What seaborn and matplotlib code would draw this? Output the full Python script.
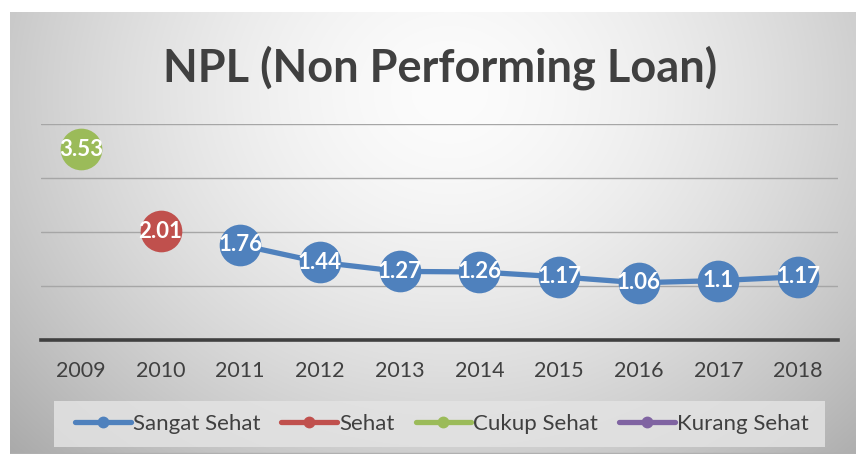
import numpy as np
import pandas as pd
import matplotlib
matplotlib.use("Agg")
import matplotlib.pyplot as plt
from matplotlib.lines import Line2D
from matplotlib.patches import Rectangle
import seaborn as sns

years = ["2009", "2010", "2011", "2012", "2013", "2014", "2015", "2016", "2017", "2018"]
sangat_sehat = [None, None, 1.76, 1.44, 1.27, 1.26, 1.17, 1.06, 1.1, 1.17]
sehat = [None, 2.01, None, None, None, None, None, None, None, None]
cukup_sehat = [3.53, None, None, None, None, None, None, None, None, None]
kurang_sehat = [None] * 10
series_names = ["Sangat Sehat", "Sehat", "Cukup Sehat", "Kurang Sehat"]
colors = ["#4F81BD", "#C0504D", "#9BBB59", "#8064A2"]
title = "NPL (Non Performing Loan)"

sns.set_theme(style="white")
plt.rcParams["font.family"] = ["Lato", "DejaVu Sans"]

rows = []
for name, vals in zip(series_names, [sangat_sehat, sehat, cukup_sehat, kurang_sehat]):
    for i, v in enumerate(vals):
        if v is not None:
            rows.append({"idx": i, "year": years[i], "value": v, "series": name})
df = pd.DataFrame(rows)

W, H = 856, 454
fig = plt.figure(figsize=(W / 100, H / 100), dpi=100)
fig.patch.set_facecolor("white")

# gradient background
bg = fig.add_axes([10 / W, 0, (W - 10) / W, (H - 12) / H])
bg.set_axis_off()
nx, ny = 400, 220
xx, yy = np.meshgrid(np.linspace(0, 1, nx), np.linspace(0, 1, ny))
d = np.sqrt(((xx - 0.52) / 0.6) ** 2 + ((yy - 0.18) / 1.0) ** 2)
val = 252 - 62 * np.clip(d, 0, 1.2) ** 1.6
img = np.dstack([val, val, val]) / 255.0
bg.imshow(np.clip(img, 0, 1), aspect="auto", extent=[0, 1, 1, 0], interpolation="bilinear")
bg.set_xlim(0, 1)
bg.set_ylim(1, 0)
bg.add_line(Line2D([0, 1], [0.0015, 0.0015], color="#b0b0b0", lw=1.0, transform=bg.transAxes))

# legend background box
fig.patches.append(Rectangle((54 / W, 1 - 447 / H), (825 - 54) / W, 46 / H,
                             transform=fig.transFigure, facecolor="#e3e3e3",
                             edgecolor="none", alpha=0.85, zorder=1))

left, right, top, bottom = 41, 838, 124, 340
ax = fig.add_axes([left / W, 1 - bottom / H, (right - left) / W, (bottom - top) / H])
ax.patch.set_alpha(0)

for name, col in zip(series_names, colors):
    sub = df[df["series"] == name]
    if len(sub) == 0:
        continue
    sns.lineplot(data=sub, x="idx", y="value", ax=ax, color=col, lw=3.8,
                 marker="o", markersize=30, markeredgewidth=0, legend=False)
    for _, r in sub.iterrows():
        ax.text(r["idx"], r["value"], f"{r['value']:g}", ha="center", va="center",
                color="white", fontsize=16, fontweight="bold", zorder=5)

ax.set_xlim(-0.5, 9.5)
ax.set_ylim(0, 4)
ax.set_yticks([1, 2, 3, 4])
ax.set_yticklabels([])
ax.grid(axis="y", color="#a6a6a6", lw=1.0)
ax.set_axisbelow(True)
ax.set_xticks(range(len(years)))
ax.set_xticklabels(years, fontsize=15.5, color="#404040")
ax.tick_params(axis="x", length=0, pad=15)
ax.tick_params(axis="y", length=0)
ax.set_xlabel("")
ax.set_ylabel("")
for s in ["top", "right", "left"]:
    ax.spines[s].set_visible(False)
ax.spines["bottom"].set_color("#404040")
ax.spines["bottom"].set_linewidth(2.6)
for line in ax.lines:
    line.set_clip_on(False)

fig.text(440 / W, 1 - 68 / H, title, ha="center", va="center", fontsize=32.5,
         fontweight="bold", color="#404040")

handles = [Line2D([0], [0], color=c, lw=3.8, marker="o", markersize=7.5,
                  solid_capstyle="round") for c in colors]
leg = fig.legend(handles, series_names, loc="center", bbox_to_anchor=(442 / W, 1 - 424 / H),
                 ncol=4, frameon=False, fontsize=16, handlelength=2.5, columnspacing=0.95,
                 handletextpad=0.1, labelcolor="#404040")

fig.savefig("out.png", dpi=100)
